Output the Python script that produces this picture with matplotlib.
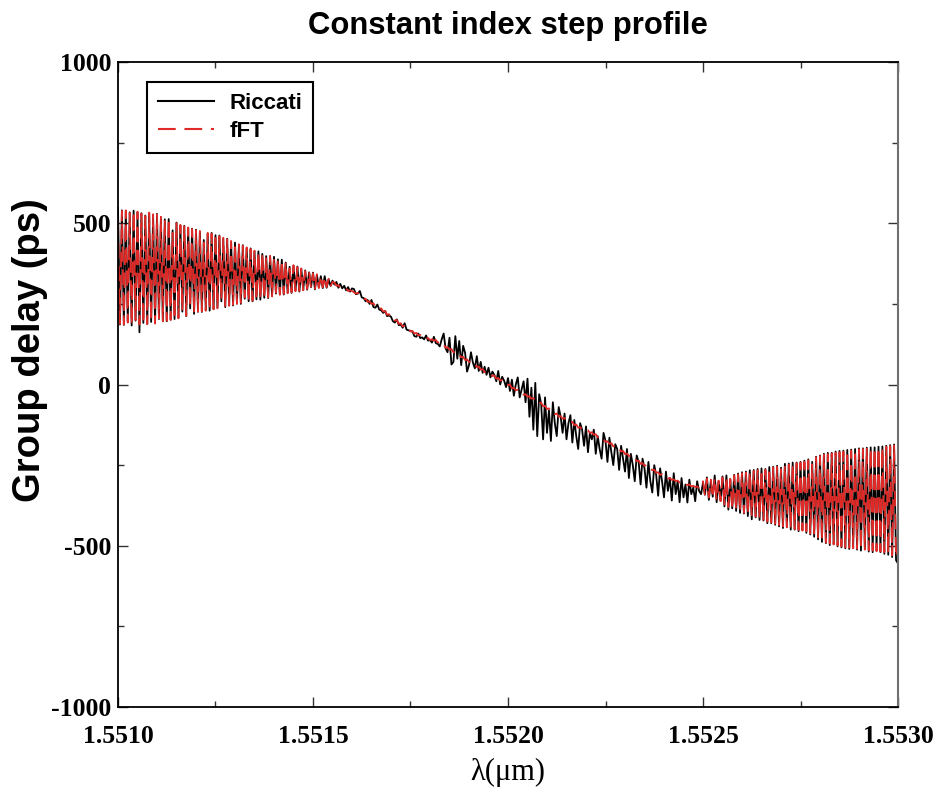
import numpy as np
import matplotlib
matplotlib.use("Agg")
import matplotlib.pyplot as plt
from matplotlib.ticker import MultipleLocator, FixedLocator

# ---------------- data ----------------
wl_start = 1.5510
wl_stop = 1.5530
n_samples = 401

riccati = [
    548, 186, 540, 185, 538, 195, 534, 183, 539, 198,
    534, 162, 531, 191, 524, 188, 530, 194, 526, 190,
    529, 203, 518, 197, 512, 196, 513, 201, 478, 203,
    502, 207, 493, 226, 492, 212, 485, 236, 483, 219,
    480, 226, 474, 225, 448, 230, 468, 229, 470, 234,
    463, 238, 462, 258, 452, 240, 452, 246, 443, 245,
    440, 251, 432, 250, 432, 266, 423, 258, 422, 258,
    413, 264, 413, 263, 405, 269, 398, 268, 397, 275,
    396, 282, 388, 280, 387, 279, 378, 285, 365, 284,
    368, 291, 366, 288, 358, 294, 354, 294, 348, 302,
    347, 295, 340, 301, 336, 299, 336, 300, 326, 306,
    322, 310, 318, 300, 312, 298, 306, 292, 302, 288,
    298, 296, 280, 282, 290, 270, 268, 258, 262, 250,
    262, 240, 238, 248, 232, 230, 222, 228, 212, 214,
    210, 196, 192, 202, 184, 186, 176, 190, 170, 168,
    166, 164, 150, 148, 158, 144, 146, 140, 152, 136,
    138, 130, 148, 128, 126, 118, 140, 158, 112, 100,
    145, 62, 70, 150, 80, 135, 60, 120, 98, 40,
    60, 100, 68, 50, 88, 42, 70, 36, 55, 30,
    52, 22, 40, 30, 10, 42, 0, 24, 12, -8,
    20, -20, 15, -35, 0, 22, -40, -15, 10, -55,
    18, -100, -10, -140, 5, -160, -30, -60, -170, -40,
    -150, -80, -175, -55, -120, -160, -70, -100, -150, -90,
    -170, -120, -95, -180, -110, -160, -200, -120, -140, -190,
    -130, -210, -150, -170, -140, -215, -160, -200, -230, -150,
    -175, -240, -165, -210, -250, -185, -200, -265, -190, -230,
    -270, -200, -290, -215, -250, -300, -220, -240, -310, -230,
    -260, -320, -240, -300, -335, -250, -280, -345, -260, -300,
    -350, -270, -330, -290, -360, -275, -340, -300, -365, -290,
    -350, -310, -366, -295, -340, -320, -362, -300, -330, -340,
    -305, -342, -288, -358, -300, -348, -282, -365, -300, -360,
    -285, -378, -282, -388, -296, -384, -280, -392, -276, -398,
    -272, -400, -270, -408, -266, -418, -265, -412, -262, -420,
    -260, -422, -262, -430, -256, -430, -255, -435, -252, -440,
    -258, -445, -246, -442, -245, -450, -242, -450, -242, -455,
    -240, -452, -236, -460, -232, -465, -240, -472, -224, -480,
    -220, -488, -215, -492, -212, -498, -212, -495, -208, -502,
    -206, -505, -205, -508, -203, -510, -202, -506, -200, -512,
    -198, -515, -198, -510, -196, -518, -195, -520, -195, -515,
    -193, -520, -192, -525, -190, -528, -188, -535, -186, -545,
    -555,
]

fft = [
    510, 188, 538, 186, 540, 192, 532, 186, 537, 200,
    536, 186, 530, 190, 522, 187, 533, 196, 528, 189,
    527, 205, 520, 196, 510, 198, 515, 200, 470, 202,
    500, 205, 495, 230, 490, 213, 487, 240, 482, 221,
    478, 225, 476, 227, 440, 229, 470, 231, 468, 233,
    465, 236, 460, 262, 455, 241, 450, 244, 445, 247,
    438, 250, 435, 253, 430, 270, 425, 257, 420, 260,
    415, 262, 411, 266, 407, 267, 395, 270, 399, 273,
    394, 285, 390, 278, 385, 281, 380, 283, 360, 286,
    370, 289, 364, 290, 360, 292, 352, 296, 350, 300,
    345, 297, 342, 299, 338, 301, 334, 302, 328, 304,
    318, 316, 306, 308, 300, 302, 296, 298, 290, 292,
    290, 286, 282, 284, 276, 270, 264, 266, 256, 258,
    250, 252, 242, 244, 234, 236, 226, 228, 216, 218,
    208, 210, 198, 200, 188, 190, 180, 182, 172, 174,
    164, 166, 158, 160, 152, 154, 146, 148, 142, 144,
    138, 140, 136, 138, 130, 132, 122, 124, 114, 116,
    108, 110, 100, 102, 92, 94, 84, 86, 76, 78,
    70, 72, 62, 64, 54, 56, 46, 48, 38, 40,
    32, 34, 26, 28, 18, 20, 12, 14, 4, 6,
    -2, 0, -12, -10, -18, -16, -26, -24, -32, -30,
    -38, -36, -44, -42, -50, -48, -58, -56, -68, -66,
    -76, -74, -84, -82, -92, -90, -100, -98, -106, -104,
    -112, -110, -118, -116, -126, -124, -134, -132, -140, -138,
    -144, -142, -150, -148, -156, -154, -164, -162, -172, -170,
    -178, -176, -184, -182, -192, -190, -200, -198, -208, -206,
    -216, -214, -222, -220, -230, -228, -238, -236, -246, -244,
    -252, -250, -260, -258, -266, -264, -274, -272, -280, -278,
    -286, -284, -292, -290, -296, -294, -300, -298, -304, -302,
    -308, -306, -312, -310, -316, -314, -318, -316, -322, -320,
    -300, -345, -292, -350, -295, -352, -290, -358, -298, -362,
    -288, -372, -286, -380, -292, -386, -282, -390, -279, -393,
    -275, -398, -273, -402, -270, -405, -268, -410, -266, -415,
    -264, -420, -264, -425, -260, -428, -257, -432, -255, -436,
    -262, -440, -250, -443, -248, -446, -246, -448, -244, -451,
    -242, -453, -240, -455, -235, -462, -248, -469, -226, -476,
    -222, -483, -218, -490, -216, -493, -214, -496, -212, -499,
    -210, -502, -208, -505, -206, -506, -205, -508, -203, -509,
    -201, -511, -200, -512, -199, -514, -198, -515, -197, -517,
    -196, -518, -195, -520, -193, -525, -191, -530, -189, -535,
    -500,
]

x_ticks = [1.5510, 1.5515, 1.5520, 1.5525, 1.5530]
x_tick_labels = ["1.5510", "1.5515", "1.5520", "1.5525", "1.5530"]
y_ticks = [-1000, -500, 0, 500, 1000]
y_tick_labels = ["-1000", "-500", "0", "500", "1000"]
series_labels = ["Riccati", "fFT"]

wavelength = np.linspace(wl_start, wl_stop, n_samples)

# ---------------- figure ----------------
W, H = 938, 800
fig = plt.figure(figsize=(W / 100, H / 100), dpi=100)
ax = fig.add_axes([118 / W, 1 - 707 / H, (898 - 118) / W, (707 - 62) / H])

ax.plot(wavelength, riccati, color="black", lw=1.3, label=series_labels[0])
ax.plot(wavelength, fft, color="#e02a27", lw=1.3, ls=(0, (8.5, 4.2)),
        label=series_labels[1])

ax.set_xlim(wl_start, wl_stop)
ax.set_ylim(-1000, 1000)

serif_bold = dict(family="Liberation Serif", weight="bold", size=18.5)
ax.xaxis.set_major_locator(FixedLocator(x_ticks))
ax.set_xticklabels(x_tick_labels, fontdict=serif_bold)
ax.xaxis.set_minor_locator(MultipleLocator(0.00025))
ax.yaxis.set_major_locator(FixedLocator(y_ticks))
ax.set_yticklabels(y_tick_labels, fontdict=serif_bold)
ax.yaxis.set_minor_locator(MultipleLocator(250))

ax.tick_params(which="both", direction="in", top=True, right=True, width=1.0,
               color="#333333")
ax.tick_params(which="major", length=7)
ax.tick_params(which="minor", length=4)
ax.tick_params(axis="x", which="major", pad=13)
ax.tick_params(axis="y", which="major", pad=5)

for side in ["left", "top", "bottom"]:
    ax.spines[side].set_linewidth(1.3)
    ax.spines[side].set_color("black")
ax.spines["right"].set_linewidth(1.5)
ax.spines["right"].set_color("#707070")

leg = ax.legend(loc="upper left", bbox_to_anchor=((147 - 118) / 780, 1 - (82 - 62) / 645),
                borderaxespad=0, fancybox=False, framealpha=1, edgecolor="black",
                prop=dict(family="Liberation Sans", weight="bold", size=16),
                handlelength=2.5, handletextpad=0.7, labelspacing=0.3,
                borderpad=0.5)
leg.get_frame().set_linewidth(1.5)
for h in leg.get_lines():
    h.set_linewidth(1.5)

fig.text(508 / W, 1 - 34 / H, "Constant index step profile", ha="center",
         va="baseline", family="Liberation Sans", weight="bold", size=22.3)
fig.text(30 / W, 1 - 350 / H, "Group delay (ps)", ha="center", va="center",
         rotation=90, family="Liberation Sans", weight="bold", size=27.5)
fig.text(508 / W, 1 - 772 / H, "λ(μm)", ha="center", va="center",
         family="Liberation Serif", size=22)

fig.savefig("out.png", dpi=100)
